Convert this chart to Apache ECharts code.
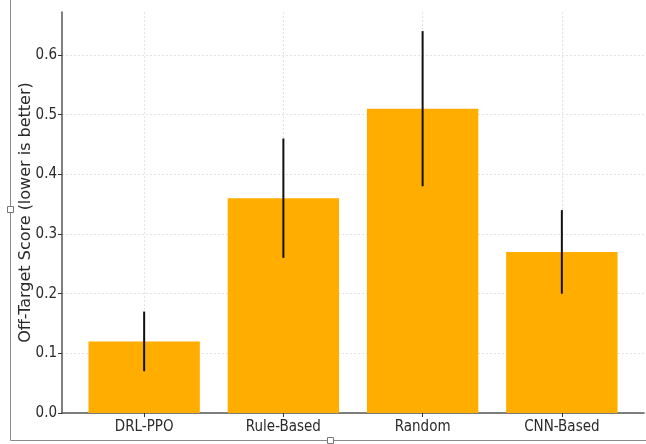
<!DOCTYPE html>
<html>
<head>
<meta charset="utf-8">
<script src="https://cdn.jsdelivr.net/npm/echarts@6/dist/echarts.min.js"></script>
<style>
  html, body { margin: 0; padding: 0; background: #fff; }
  #chart { width: 646px; height: 444px; }
</style>
</head>
<body>
<div id="chart"></div>
<script>
// Off-target score per method, with symmetric error half-widths
const categories = ['DRL-PPO', 'Rule-Based', 'Random', 'CNN-Based'];
const scores = [0.12, 0.36, 0.51, 0.27];
const errors = [0.05, 0.10, 0.13, 0.07];
const yTicks = [0.0, 0.1, 0.2, 0.3, 0.4, 0.5, 0.6];

const positions = categories.map((_, i) => i);
const barData = positions.map((i) => [i, scores[i], errors[i]]);

const chart = echarts.init(document.getElementById('chart'), null, { renderer: 'canvas' });
const tickFont = '"DejaVu Sans Condensed", "DejaVu Sans"';
const titleFont = 'DejaVu Sans';
const gridColor = '#dcdcdc';

chart.setOption({
  animation: false,
  backgroundColor: '#ffffff',
  grid: { left: 62, right: 2, top: 12, bottom: 31, containLabel: false },
  xAxis: {
    type: 'value',
    min: -0.59,
    max: 3.59,
    axisLine: { show: true, onZero: false, lineStyle: { color: '#555', width: 1.5 } },
    axisTick: { show: true, length: 4, lineStyle: { color: '#333', width: 1 }, customValues: positions },
    axisLabel: {
      customValues: positions,
      color: '#2a2a2a', fontFamily: tickFont, fontSize: 15, margin: 7,
      formatter: (v) => categories[Math.round(v)] || ''
    },
    splitLine: { show: true, lineStyle: { color: gridColor, type: [2, 2], width: 0.8 } }
  },
  yAxis: {
    type: 'value',
    min: 0,
    max: 0.672,
    name: 'Off-Target Score (lower is better)',
    nameLocation: 'middle',
    nameGap: 28,
    nameMoveOverlap: false,
    nameTextStyle: { color: '#2a2a2a', fontFamily: titleFont, fontSize: 16 },
    axisLine: { show: true, onZero: false, lineStyle: { color: '#555', width: 1.5 } },
    axisTick: { show: true, length: 4, lineStyle: { color: '#333', width: 1 }, customValues: yTicks },
    axisLabel: {
      customValues: yTicks,
      color: '#2a2a2a', fontFamily: tickFont, fontSize: 15, margin: 5,
      formatter: (v) => v.toFixed(1)
    },
    splitLine: { show: true, lineStyle: { color: gridColor, type: [2, 2], width: 0.8 } }
  },
  graphic: [
    // outer frame lines with small handles
    { type: 'line', z: 100, shape: { x1: 10.5, y1: 0, x2: 10.5, y2: 440.5 }, style: { stroke: '#8a8a8a', lineWidth: 1 } },
    { type: 'line', z: 100, shape: { x1: 10.5, y1: 440.5, x2: 646, y2: 440.5 }, style: { stroke: '#8a8a8a', lineWidth: 1 } },
    { type: 'rect', z: 101, shape: { x: 7.5, y: 206.5, width: 6, height: 6 }, style: { fill: '#fff', stroke: '#777', lineWidth: 1 } },
    { type: 'rect', z: 101, shape: { x: 327.5, y: 437.5, width: 6, height: 6 }, style: { fill: '#fff', stroke: '#777', lineWidth: 1 } }
  ],
  series: [
    {
      type: 'custom',
      data: barData,
      encode: { x: 0, y: 1 },
      renderItem: (params, api) => {
        const x = api.value(0);
        const y = api.value(1);
        const e = api.value(2);
        const w = api.size([0.8, 0])[0];
        const top = api.coord([x, y]);
        const base = api.coord([x, 0]);
        const hi = api.coord([x, y + e]);
        const lo = api.coord([x, y - e]);
        return {
          type: 'group',
          children: [
            {
              type: 'rect',
              shape: { x: top[0] - w / 2, y: top[1], width: w, height: base[1] - top[1] },
              style: { fill: '#FFAE00' }
            },
            {
              type: 'line',
              shape: { x1: hi[0], y1: hi[1], x2: lo[0], y2: lo[1] },
              style: { stroke: '#111', lineWidth: 2 }
            }
          ]
        };
      }
    }
  ]
});
</script>
</body>
</html>
